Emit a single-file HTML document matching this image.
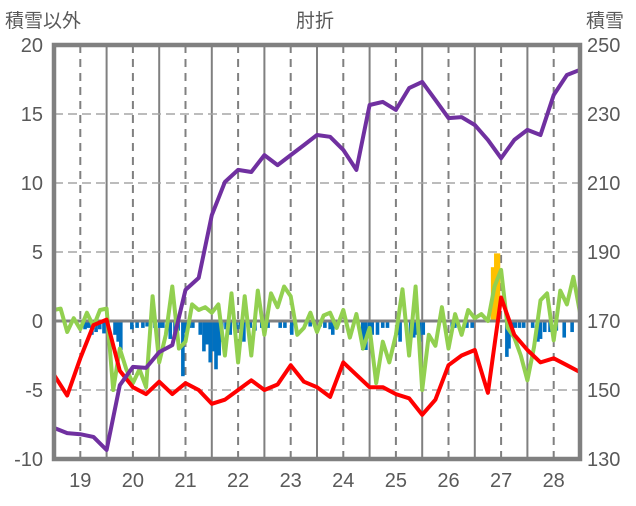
<!DOCTYPE html>
<html><head><meta charset="utf-8">
<style>
body{margin:0;background:#fff;}
svg text{font-family:"Liberation Sans","Noto Sans CJK JP",sans-serif;fill:#595959;}
</style></head>
<body>
<svg id="chart" width="636" height="501" viewBox="0 0 636 501" xmlns="http://www.w3.org/2000/svg">
<text x="5" y="27" font-size="19">積雪以外</text>
<text x="315" y="27" font-size="19" text-anchor="middle">肘折</text>
<text x="586" y="27" font-size="19">積雪</text>
<g id="grid"></g>
<g id="bars"></g>
<g id="lines"></g>
<g id="frame"></g>
<g id="ticks"></g>
</svg>
<script>
const dayLabels=["19","20","21","22","23","24","25","26","27","28"];
const leftTicks=[20,15,10,5,0,-5,-10];
const rightTicks=[250,230,210,190,170,150,130];
// snow depth, every 0.25 day
const snowDepth=[139.0,137.5,137.2,136.4,132.6,151.4,156.7,156.4,161.0,163.0,179.0,182.5,200.7,210.3,213.8,213.2,218.1,215.2,218.1,221.0,223.9,223.4,219.6,213.8,232.6,233.5,231.2,237.5,239.3,234.1,228.8,229.1,226.8,222.5,217.2,222.5,225.4,223.9,235.5,241.3,242.8];
// red series, every 0.25 day
const redSeries=[-3.9,-5.4,-2.7,-0.3,0.1,-3.6,-4.8,-5.3,-4.4,-5.3,-4.5,-5.0,-6.0,-5.7,-5.0,-4.3,-5.0,-4.6,-3.2,-4.4,-4.8,-5.5,-3.0,-3.9,-4.8,-4.8,-5.3,-5.6,-6.8,-5.7,-3.2,-2.5,-2.1,-5.2,1.7,-1.0,-2.1,-3.0,-2.7,-3.2,-3.7];
// green series, every 0.125 day
const greenSeries=[0.8,0.9,-0.8,0.2,-0.6,0.6,-0.4,0.8,0.9,-5.0,-2.0,-3.5,-4.5,-3.5,-4.8,1.8,-3.0,-1.0,2.5,-2.0,-1.5,1.2,0.8,1.0,0.6,1.2,-2.5,2.0,-3.0,1.8,-2.5,2.2,-1.0,2.0,1.0,2.5,1.8,-1.0,-0.5,0.6,-0.8,0.4,0.6,-0.5,0.8,-1.2,0.5,-2.0,-0.5,-4.5,-1.5,-3.0,-1.0,2.3,-2.5,2.5,-5.0,-1.0,-1.8,1.0,-2.0,0.5,-1.0,0.8,0.2,0.5,0.0,2.5,3.7,-0.5,-1.2,-2.5,-4.3,-1.9,1.5,2.0,-1.4,2.2,1.2,3.2,0.6];
// blue bars: time (days from left edge) and value
const blueTimes=[0.59,0.65,0.72,0.80,0.87,0.95,1.16,1.22,1.27,1.48,1.58,1.69,1.77,1.92,2.01,2.07,2.21,2.30,2.36,2.45,2.51,2.57,2.64,2.78,2.85,2.91,2.97,3.04,3.08,3.14,3.19,3.27,3.35,3.46,3.54,3.61,3.73,3.82,3.95,4.07,4.30,4.39,4.52,4.87,5.06,5.15,5.25,5.30,5.87,5.93,6.00,6.05,6.15,6.25,6.34,6.54,6.58,6.78,6.84,6.89,6.95,7.02,7.57,7.62,7.85,7.95,8.61,8.65,8.71,8.77,8.85,8.93,9.10,9.20,9.25,9.33,9.43,9.55,9.70,9.85];
const blueValues=[-0.6,-0.5,-1.0,-0.8,-0.6,-0.9,-1.0,-1.5,-2.1,-0.6,-0.5,-0.5,-0.4,-0.5,-0.5,-0.5,-1.3,-1.0,-0.7,-4.0,-0.8,-0.5,-0.5,-1.0,-2.2,-1.7,-3.0,-2.2,-3.5,-2.5,-1.5,-0.6,-1.0,-0.6,-0.6,-1.5,-0.5,-0.7,-0.5,-0.5,-0.5,-0.5,-1.0,-0.4,-0.4,-0.5,-0.6,-1.0,-2.1,-2.1,-1.0,-1.0,-1.0,-0.5,-0.5,-1.0,-1.5,-1.4,-1.2,-1.0,-1.5,-1.0,-0.5,-0.5,-0.5,-0.5,-2.6,-2.0,-0.5,-0.5,-0.5,-0.5,-0.5,-1.5,-1.3,-0.8,-0.8,-0.7,-1.2,-0.8];
const orangeTimes=[8.34,8.40,8.45];
const orangeValues=[3.9,4.9,4.9];

const NS="http://www.w3.org/2000/svg";
const X0=54,X1=580,Y0=45,Y1=459;
function xT(t){return X0+(X1-X0)*t/10;}
function yL(v){return Y0+(20-v)*(Y1-Y0)/30;}
function yR(v){return Y0+(250-v)*(Y1-Y0)/120;}
function mk(tag,attrs,parent){const e=document.createElementNS(NS,tag);for(const k in attrs)e.setAttribute(k,attrs[k]);document.getElementById(parent).appendChild(e);return e;}

for(let d=0;d<=10;d++){
  if(d>0&&d<10){const l=mk('line',{x1:xT(d),x2:xT(d),y1:Y0,y2:Y1,stroke:'#808080','stroke-width':2},'grid');
  
  }
  if(d<10){const l2=mk('line',{x1:xT(d+0.5),x2:xT(d+0.5),y1:Y0,y2:Y1,stroke:'#808080','stroke-width':2,'stroke-dasharray':'8,6'},'grid');
  
  }
}
[15,10,5,-5].forEach(v=>{const l=mk('line',{x1:X0,x2:X1,y1:yL(v),y2:yL(v),stroke:'#a6a6a6','stroke-width':1.5,'stroke-dasharray':'9,5'},'grid');

});

const bw=3.6;
blueTimes.forEach((t,i)=>{const v=blueValues[i];const r=mk('rect',{x:xT(t)-bw/2,y:yL(0),width:bw,height:yL(v)-yL(0),fill:'#0070C0'},'bars');

});
orangeTimes.forEach((t,i)=>{const v=orangeValues[i];const r=mk('rect',{x:xT(t)-bw/2,y:yL(v),width:bw,height:yL(0)-yL(v),fill:'#FFC000'},'bars');

});
const zl=mk('line',{x1:X0,x2:X1,y1:yL(0),y2:yL(0),stroke:'#808080','stroke-width':3},'bars');



function path(arr,step,yf,color,name){
  const d=arr.map((v,i)=>(i?'L':'M')+xT(i*step).toFixed(1)+','+yf(v).toFixed(1)).join('');
  const p=mk('path',{d:d,fill:'none',stroke:color,'stroke-width':4,'stroke-linejoin':'round','stroke-linecap':'round'},'lines');
  
  
}
path(greenSeries,0.125,yL,'#92D050','green-line');
path(redSeries,0.25,yL,'#FF0000','red-line');
path(snowDepth,0.25,yR,'#7030A0','snow-depth-line');

const fr=mk('rect',{x:X0,y:Y0,width:X1-X0,height:Y1-Y0,fill:'none',stroke:'#808080','stroke-width':4.5},'frame');



leftTicks.forEach(v=>{const t=mk('text',{x:43,y:yL(v)+7,'font-size':20,'text-anchor':'end'},'ticks');t.textContent=v;

});
rightTicks.forEach(v=>{const t=mk('text',{x:587,y:yR(v)+7,'font-size':20},'ticks');t.textContent=v;

});
dayLabels.forEach((s,i)=>{const t=mk('text',{x:xT(i+0.5),y:487,'font-size':20,'text-anchor':'middle'},'ticks');t.textContent=s;

});
</script>
</body></html>
